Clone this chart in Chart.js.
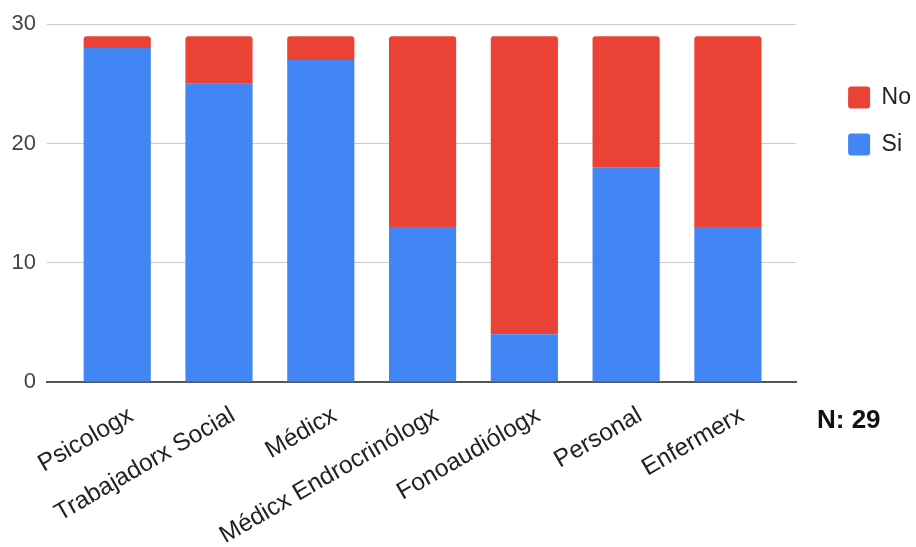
<!DOCTYPE html>
<html>
<head>
<meta charset="utf-8">
<script src="https://cdn.jsdelivr.net/npm/chart.js@4.4.1/dist/chart.umd.min.js"></script>
<style>
  html, body { margin: 0; padding: 0; background: #ffffff; }
  #wrap { width: 916px; height: 547px; position: relative; }
</style>
</head>
<body>
<div id="wrap"><canvas id="chart" width="916" height="547"></canvas></div>
<script>
// Professions asked about
const categories = ['Psicologx', 'Trabajadorx Social', 'Médicx', 'Médicx Endrocrinólogx', 'Fonoaudiólogx', 'Personal', 'Enfermerx'];
// Answers per profession
const siValues = [28, 25, 27, 13, 4, 18, 13];
const noValues = [1, 4, 2, 16, 25, 11, 16];
// Value axis ticks
const yTicks = [0, 10, 20, 30];
const sampleNote = 'N: 29';

const FONT = '"Liberation Sans", Arial, sans-serif';

// Bars sit on a numeric x axis so the plot can extend a little past the outer bars
const toPoints = vals => vals.map((v, i) => ({ x: i, y: v }));

const notePlugin = {
  id: 'sampleNote',
  afterLayout(chart) {
    // move the legend away from the plot edge and down from the top
    const lg = chart.legend;
    if (lg) {
      lg.left += 28; lg.right += 28;
      lg.top += 39; lg.bottom += 39;
    }
  },
  afterDraw(chart) {
    const ctx = chart.ctx;
    ctx.save();
    ctx.font = 'bold 26px ' + FONT;
    ctx.fillStyle = '#111111';
    ctx.textAlign = 'left';
    ctx.textBaseline = 'alphabetic';
    ctx.fillText(sampleNote, 817, 428);
    ctx.restore();
  }
};

new Chart(document.getElementById('chart'), {
  type: 'bar',
  data: {
    datasets: [
      { label: 'Si', data: toPoints(siValues), backgroundColor: '#4285F4', borderWidth: 0, borderRadius: 0 },
      { label: 'No', data: toPoints(noValues), backgroundColor: '#EA4335', borderWidth: 0,
        borderRadius: { topLeft: 3, topRight: 3, bottomLeft: 0, bottomRight: 0 }, borderSkipped: false }
    ]
  },
  plugins: [notePlugin],
  options: {
    responsive: false,
    animation: false,
    devicePixelRatio: 1,
    layout: { padding: { top: 23, right: 23, bottom: 0, left: 0 } },
    datasets: { bar: { barPercentage: 0.66, categoryPercentage: 1 } },
    scales: {
      x: {
        type: 'linear',
        stacked: true,
        offset: false,
        min: -0.69,
        max: 6.67,
        afterBuildTicks: s => { s.ticks = categories.map((_, i) => ({ value: i })); },
        afterFit: s => { s.height = 547 - 382; },
        grid: { display: false, drawTicks: false },
        border: { display: true, color: '#555555', width: 2 },
        ticks: {
          autoSkip: false,
          minRotation: 30,
          maxRotation: 30,
          padding: 19,
          labelOffset: 14,
          color: '#222222',
          font: { family: FONT, size: 24.5 },
          callback: v => categories[v]
        }
      },
      y: {
        stacked: true,
        min: 0,
        max: 30,
        afterBuildTicks: s => { s.ticks = yTicks.map(v => ({ value: v })); },
        afterFit: s => { s.width = 47; },
        grid: { color: '#cccccc', lineWidth: 1, drawTicks: false },
        border: { display: false },
        ticks: {
          padding: 11,
          color: '#444444',
          font: { family: FONT, size: 22 }
        }
      }
    },
    plugins: {
      tooltip: { enabled: false },
      legend: {
        position: 'right',
        align: 'start',
        reverse: true,
        labels: {
          boxWidth: 22,
          boxHeight: 22,
          padding: 24,
          color: '#222222',
          font: { family: FONT, size: 23 },
          useBorderRadius: true,
          borderRadius: 3
        }
      }
    }
  }
});
</script>
</body>
</html>
